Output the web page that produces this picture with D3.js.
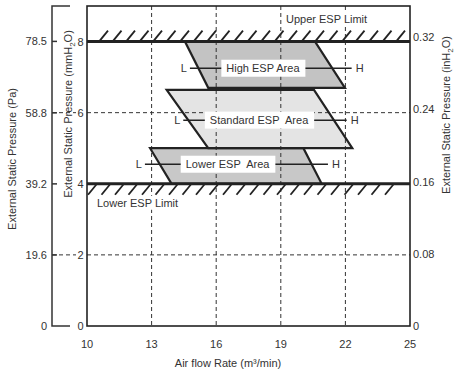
<!DOCTYPE html>
<html><head><meta charset="utf-8">
<script src="https://cdn.jsdelivr.net/npm/d3@7"></script>
<style>
body{margin:0;background:#fff;}
text{font-family:"Liberation Sans",Arial,sans-serif;fill:#333;}
</style></head>
<body><svg id="c" width="458" height="376"></svg>
<script>
// ---- data ----
const xTicks = [10, 13, 16, 19, 22, 25];
const mmTicks = [0, 2, 4, 6, 8];
const paTicks = [0, 19.6, 39.2, 58.8, 78.5];
const inTicks = [0, 0.08, 0.16, 0.24, 0.32];
const gridX = [13, 16, 19, 22];
const gridY = [2, 6];
const limitValues = [8, 4];
const limitLabels = ["Upper ESP Limit", "Lower ESP Limit"];
const areaNames = ["High ESP Area", "Standard ESP\u00a0 Area", "Lower ESP\u00a0 Area"];
const areaTop = [8, 6.64, 5.0];
const areaBottom = [6.70, 5.0, 4.0];
const areaTopLeft = [14.55, 13.70, 12.93];
const areaTopRight = [20.59, 20.54, 20.05];
const areaBottomLeft = [15.63, 15.63, 13.93];
const areaBottomRight = [21.98, 22.32, 20.90];
const areaFill = ["#c3c3c3", "#e4e4e4", "#c8c8c8"];
const lineY = [7.25, 5.79, 4.55];
const lineL = [14.78, 14.47, 12.69];
const lineH = [22.29, 22.06, 21.19];
const labelAt = [18.17, 17.99, 16.53];

// ---- scales ----
const svg = d3.select("#c");
const L = 87, R = 410, T = 6, B = 326, PA = 52;
const x = d3.scaleLinear().domain([10, 25]).range([L, R]);
const y = d3.scaleLinear().domain([0, 9]).range([B, T]);
const yPa = d3.scaleLinear().domain([0, 9 * 9.807]).range([B, T]);
const yIn = d3.scaleLinear().domain([0, 9 * 0.03937]).range([B, T]);
const dark = "#222";

// areas fills
const areas = areaNames.map((n, i) => ({
  pts: [[areaTopLeft[i], areaTop[i]], [areaTopRight[i], areaTop[i]],
        [areaBottomRight[i], areaBottom[i]], [areaBottomLeft[i], areaBottom[i]]],
  fill: areaFill[i]
}));
const line = d3.line().x(d => x(d[0])).y(d => y(d[1]));
svg.selectAll("path.fill").data(areas).join("path")
  .attr("d", d => line(d.pts) + "Z").attr("fill", d => d.fill).attr("stroke", "none");

// grid
svg.selectAll("line.gx").data(gridX).join("line")
  .attr("x1", d => x(d)).attr("x2", d => x(d)).attr("y1", T).attr("y2", B)
  .attr("stroke", "#333").attr("stroke-width", 1).attr("stroke-dasharray", "4,3");
svg.selectAll("line.gy").data(gridY).join("line")
  .attr("x1", L).attr("x2", R).attr("y1", d => y(d)).attr("y2", d => y(d))
  .attr("stroke", "#333").attr("stroke-width", 1).attr("stroke-dasharray", "4,3");
svg.selectAll("line.gyo").data(gridY).join("line")
  .attr("x1", PA).attr("x2", 76).attr("y1", d => y(d)).attr("y2", d => y(d))
  .attr("stroke", "#333").attr("stroke-width", 1).attr("stroke-dasharray", "4,3");

// area outlines
svg.selectAll("path.out").data(areas).join("path")
  .attr("d", d => line(d.pts) + "Z").attr("fill", "none")
  .attr("stroke", dark).attr("stroke-width", 2.2).attr("stroke-linejoin", "miter");

// L-H lines
svg.selectAll("line.lh").data(lineY).join("line")
  .attr("x1", (d, i) => x(lineL[i])).attr("x2", (d, i) => x(lineH[i]))
  .attr("y1", d => y(d)).attr("y2", d => y(d))
  .attr("stroke", dark).attr("stroke-width", 1.5);
svg.selectAll("text.l").data(lineY).join("text")
  .attr("x", (d, i) => x(lineL[i]) - 3).attr("y", d => y(d) + 4)
  .attr("text-anchor", "end").attr("font-size", 11).text("L");
svg.selectAll("text.h").data(lineY).join("text")
  .attr("x", (d, i) => x(lineH[i]) + 4).attr("y", d => y(d) + 4)
  .attr("text-anchor", "start").attr("font-size", 11).text("H");

function boxedText(tx, ty, anchor, str, padX, padY) {
  const g = svg.append("g");
  const r = g.append("rect").attr("fill", "#fff");
  const t = g.append("text").attr("x", tx).attr("y", ty)
    .attr("text-anchor", anchor).attr("font-size", 11).text(str);
  const bb = t.node().getBBox();
  r.attr("x", bb.x - padX).attr("y", bb.y - padY).attr("width", bb.width + 2 * padX).attr("height", bb.height + 2 * padY);
}
// labels with white boxes
areaNames.forEach((n, i) => boxedText(x(labelAt[i]), y(lineY[i]) + 4, "middle", n, 5, 2.5));

// limits + hatches
limitValues.forEach((v, i) => {
  const yy = y(v);
  const up = i === 0;
  const starts = up ? d3.range(99, 400, 13.5) : d3.range(88, 395, 13.5);
  svg.selectAll(null).data(starts).join("line")
    .attr("x1", d => d).attr("y1", up ? yy : yy + 11)
    .attr("x2", d => d + 9).attr("y2", up ? yy - 11 : yy)
    .attr("stroke", dark).attr("stroke-width", 1.8);
  svg.append("line").attr("x1", L).attr("x2", R).attr("y1", yy).attr("y2", yy)
    .attr("stroke", dark).attr("stroke-width", 3);
});
boxedText(286, y(limitValues[0]) - 19, "start", limitLabels[0], 2, 1);
boxedText(97, y(limitValues[1]) + 23, "start", limitLabels[1], 2, 1);

// frame
svg.append("rect").attr("x", L).attr("y", T).attr("width", R - L).attr("height", B - T)
  .attr("fill", "none").attr("stroke", dark).attr("stroke-width", 1.6);

// Pa axis bracket
svg.append("path").attr("d", `M70,${T}H${PA}V${B}H70`).attr("fill", "none")
  .attr("stroke", "#333").attr("stroke-width", 1.5);
svg.selectAll("line.pat").data(paTicks.filter(d => d > 0)).join("line")
  .attr("x1", PA).attr("x2", PA + 5).attr("y1", d => yPa(d)).attr("y2", d => yPa(d))
  .attr("stroke", "#333").attr("stroke-width", 1.5);
svg.selectAll("text.pa").data(paTicks).join("text")
  .attr("x", 47).attr("y", d => yPa(d) + 4).attr("text-anchor", "end")
  .attr("font-size", 11).text(d => d3.format(".1f")(d).replace(/^0\.0$/, "0"));

// mm axis labels
svg.selectAll("text.mm").data(mmTicks).join("text")
  .attr("x", 83.5).attr("y", d => y(d) + 4).attr("text-anchor", "end")
  .attr("font-size", 11).text(d => d);

// inH2O labels
svg.selectAll("text.in").data(inTicks).join("text")
  .attr("x", 413).attr("y", d => yIn(d) + 4).attr("text-anchor", "start")
  .attr("font-size", 11).text(d => d === 0 ? "0" : d3.format(".2f")(d));

// x labels
svg.selectAll("text.xt").data(xTicks).join("text")
  .attr("x", d => x(d)).attr("y", 348).attr("text-anchor", "middle")
  .attr("font-size", 11).text(d => d);

// titles
svg.append("text").attr("x", 228).attr("y", 367).attr("text-anchor", "middle")
  .attr("font-size", 11).text("Air flow Rate (m\u00b3/min)");
svg.append("text").attr("transform", "translate(16,159) rotate(-90)")
  .attr("text-anchor", "middle").attr("font-size", 11).text("External Static Pressure (Pa)");
function h2oTitle(tx, ty, unit) {
  const t = svg.append("text").attr("transform", `translate(${tx},${ty}) rotate(-90)`)
    .attr("text-anchor", "middle").attr("font-size", 11);
  t.append("tspan").text("External Static Pressure (" + unit + "H");
  t.append("tspan").attr("font-size", 8).attr("dy", 3).text("2");
  t.append("tspan").attr("dy", -3).text("O)");
}
h2oTitle(72, 114, "mm");
h2oTitle(450, 115, "in");
</script></body></html>
